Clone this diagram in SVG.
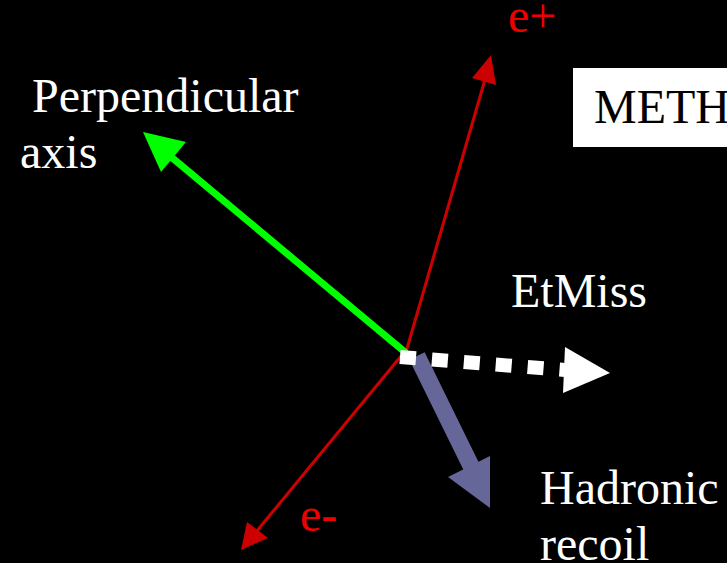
<svg xmlns="http://www.w3.org/2000/svg" width="727" height="563" viewBox="0 0 727 563">
<style>
.t{font-family:"Liberation Serif","Times New Roman",serif;font-size:48px;}
.w{fill:#ffffff;}
.r{fill:#ee0000;}
</style>
<rect x="0" y="0" width="727" height="563" fill="#000000"/>
<g id="connectors">
<g id="e-plus">
<line x1="406" y1="352" x2="486" y2="76" stroke="#cc0000" stroke-width="3"/>
<polygon points="491,55 472,78 496,85" fill="#cc0000"/>
</g>
<g id="e-minus">
<line x1="406" y1="350" x2="256" y2="532" stroke="#cc0000" stroke-width="3"/>
<polygon points="241,550 247,522 268,538" fill="#cc0000"/>
</g>
<g id="perp-axis">
<line x1="406" y1="353" x2="170" y2="156" stroke="#00ff00" stroke-width="7"/>
<polygon points="143,132 161,172 186,142" fill="#00ff00"/>
</g>
<g id="hadronic">
<line x1="417" y1="356" x2="473" y2="470" stroke="#666699" stroke-width="17"/>
<polygon points="490,508 448,477 490,456" fill="#666699"/>
</g>
<g id="etmiss">
<line x1="400" y1="357" x2="565" y2="370" stroke="#ffffff" stroke-width="14" stroke-dasharray="16,16"/>
<polygon points="610,373 565,347 563,393" fill="#ffffff"/>
</g>
</g>
<g id="label-perp">
<text class="t w" x="32" y="112">Perpendicular</text>
<text class="t w" x="20" y="168">axis</text>
</g>
<g id="label-eplus"><text class="t r" x="508" y="32">e+</text></g>
<g id="label-eminus"><text class="t r" x="300" y="531">e-</text></g>
<g id="label-etmiss"><text class="t w" x="511" y="307">EtMiss</text></g>
<g id="label-hadronic">
<text class="t w" x="540" y="504">Hadronic</text>
<text class="t w" x="540" y="560">recoil</text>
</g>
<g id="meth-box">
<rect x="573" y="68" width="160" height="79" fill="#ffffff"/>
<text class="t" x="594" y="123" fill="#000000">METH</text>
</g>
</svg>
